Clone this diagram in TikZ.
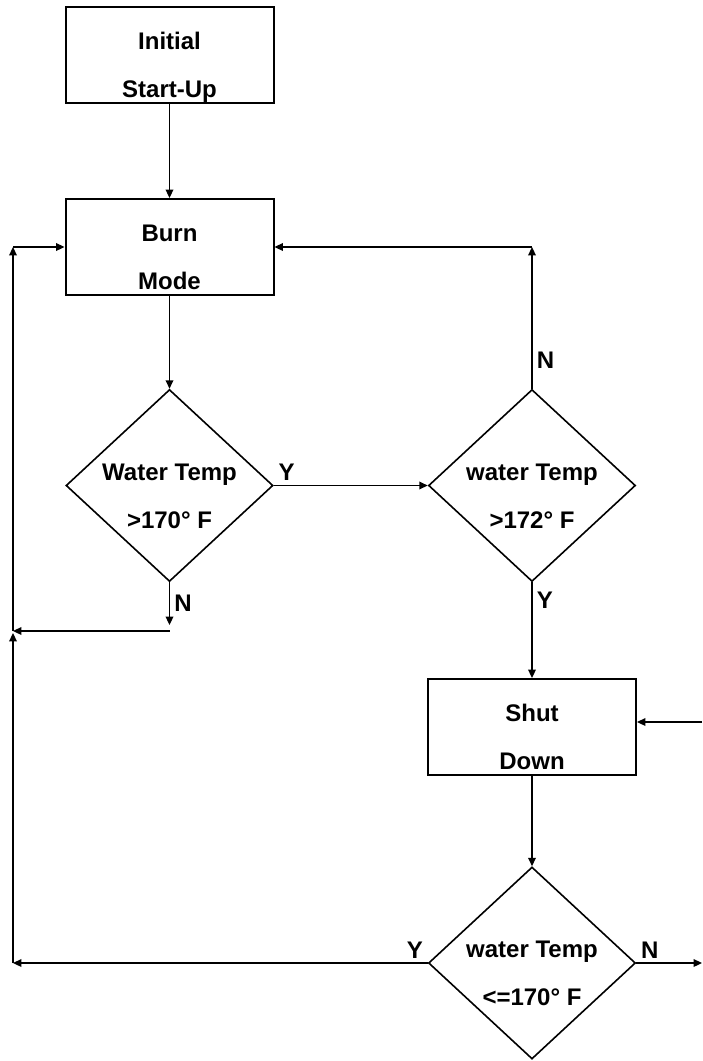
\documentclass[tikz,border=0pt]{standalone}
\usepackage{fontspec}
\setmainfont{Liberation Sans}
\usetikzlibrary{shapes.geometric, arrows.meta, positioning}

% two text lines, set lower than the centre of the shape
\newcommand{\twoline}[2]{\raisebox{-7.5pt}[0pt][0pt]{\begin{tabular}{@{}c@{}}#1\\#2\end{tabular}}}

\begin{document}
\begin{tikzpicture}[
    x=0.5pt, y=-0.5pt,
    >={Triangle[length=4.2pt, width=3.8pt]},
    font=\fontsize{12}{24}\selectfont\bfseries,
    block/.style={
        rectangle,
        draw,
        line width=1pt,
        minimum width=104pt,
        minimum height=48pt,
        inner sep=0pt
    },
    decision/.style={
        diamond,
        draw,
        line width=0.8pt,
        minimum width=103.5pt,
        minimum height=96pt,
        inner sep=0pt
    },
    flow/.style={->, line width=0.75pt},
    tag/.style={inner sep=2pt}
]
    \useasboundingbox (0,0) rectangle (702,1061);

    % =======================================================
    % Blocks and decisions
    % =======================================================
    \node[block] (init) at (169.5,55) {\twoline{Initial}{Start-Up}};
    \node[block] (burn) at (169.5,247) {\twoline{Burn}{Mode}};
    \node[decision] (tempA) at (169.5,485.5) {\twoline{Water Temp}{>170° F}};
    \node[decision] (tempB) at (532,485.5) {\twoline{water Temp}{>172° F}};
    \node[block] (shut) at (532,727) {\twoline{Shut}{Down}};
    \node[decision] (tempC) at (532,963) {\twoline{water Temp}{<=170° F}};

    % Corner points
    \coordinate (loopTop) at (13,247);
    \coordinate (loopMid) at (13,631);
    \coordinate (loopBot) at (13,963);
    \coordinate (noEndA) at (169.5,625);
    \coordinate (noTurnA) at (169.5,631);
    \coordinate (retTop) at (532,247);
    \coordinate (extIn) at (702,722);
    \coordinate (extOut) at (702,963);

    % Main forward path
    \draw[flow] (init) -- (burn);
    \draw[flow] (burn) -- (tempA);
    \draw[flow] (tempA) -- node[tag, above right, pos=0] {Y} (tempB);
    \draw[flow] (tempB) -- node[tag, right, pos=0.19] {Y} (shut);
    \draw[flow] (shut) -- (tempC);

    % Not hot enough: back to burn mode
    \draw[flow] (tempA) -- node[tag, right] {N} (noEndA);
    \draw[flow] (noTurnA) -- (loopMid);
    \draw[flow] (loopMid) -- (loopTop);
    \draw[flow] (loopTop) -- (burn.west);

    % Not too hot: back to burn mode
    \draw[flow] (tempB) -- node[tag, right, pos=0.2] {N} (retTop);
    \draw[flow] (retTop) -- (burn.east);

    % Cooled down: back to burn mode
    \draw[flow] (tempC.west) -- node[tag, above left, pos=0] {Y} (loopBot);
    \draw[flow, shorten >=1pt] (loopBot) -- (loopMid);

    % Side entry and exit
    \draw[flow] (extIn) -- (extIn -| shut.east);
    \draw[flow] (tempC.east) -- node[tag, above right, pos=0] {N} (extOut);

\end{tikzpicture}
\end{document}
